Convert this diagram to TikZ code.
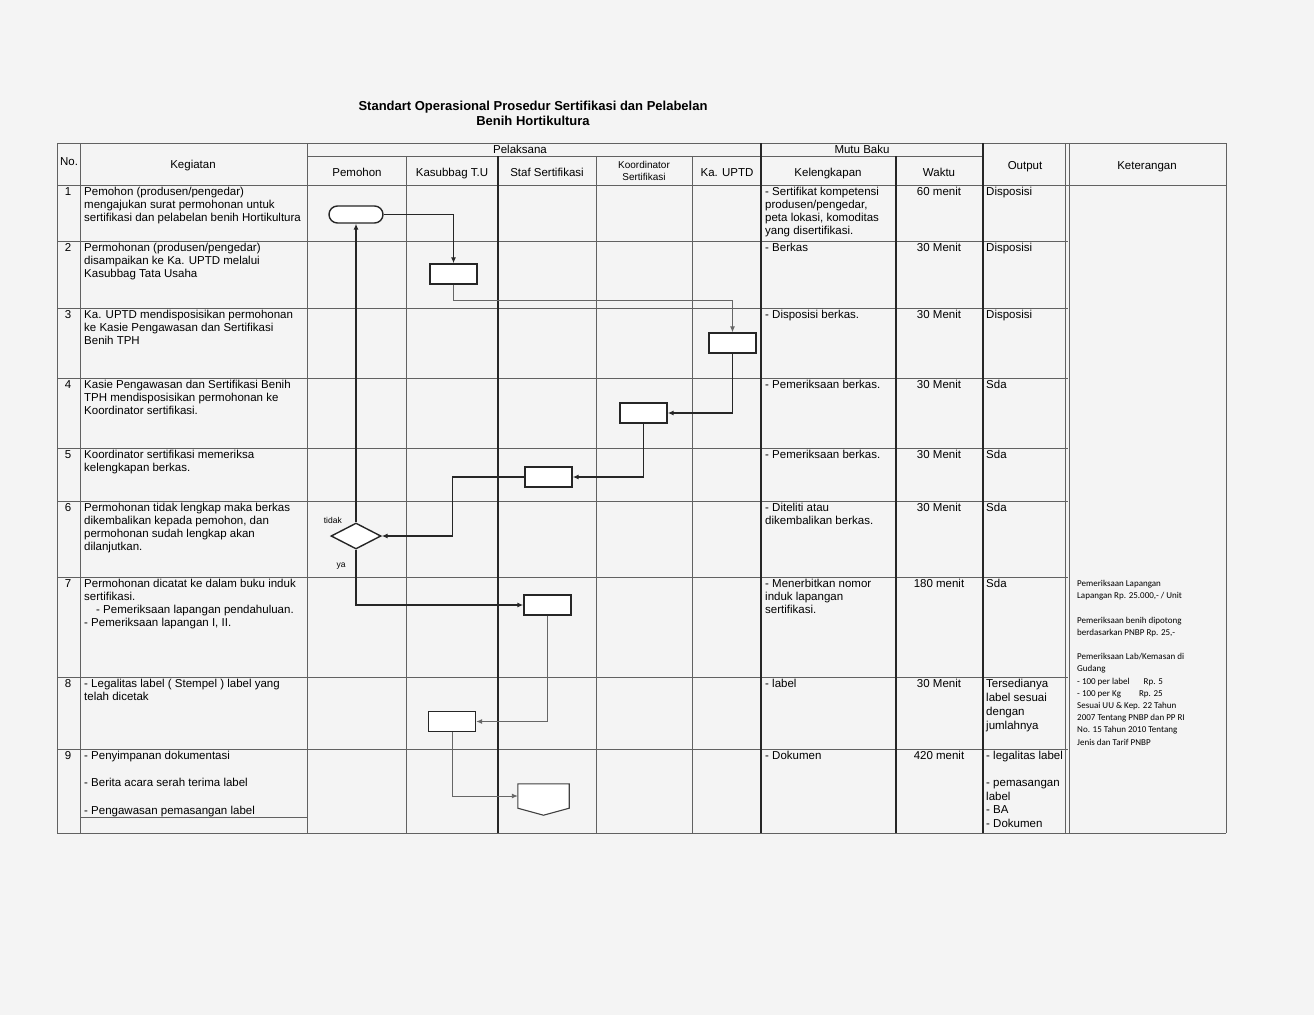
\documentclass[tikz,border=0pt]{standalone}
\usepackage{fontspec}
\setmainfont{Liberation Sans}
\newfontfamily\ketfont{Carlito}
\usetikzlibrary{arrows.meta,shapes.geometric,calc}
\definecolor{bg}{HTML}{F4F4F4}
\begin{document}
\begin{tikzpicture}[x=1pt,y=-1pt,
  gridl/.style={draw=black!62, line width=1pt},
  gridd/.style={draw=black!85, line width=1.2pt},
  txt/.style={anchor=north west, inner sep=0pt, align=left, font=\fontsize{11.5}{13}\selectfont},
  num/.style={anchor=north, inner sep=0pt, font=\fontsize{11.5}{13}\selectfont},
  wkt/.style={anchor=north, inner sep=0pt, font=\fontsize{11.5}{13}\selectfont},
  hdr/.style={inner sep=0pt, align=center, font=\fontsize{11.5}{13}\selectfont},
  subhdr/.style={inner sep=0pt, anchor=base, font=\fontsize{11.5}{13}\selectfont},
  proc/.style={draw=black!85, line width=1.4pt, fill=white, minimum width=47pt, minimum height=20pt, inner sep=0pt},
  term/.style={proc, rounded corners=8.5pt, minimum width=54pt, minimum height=17pt},
  dec/.style={diamond, draw=black!85, line width=1.4pt, fill=white, minimum width=50pt, minimum height=26pt, inner sep=0pt},
  conn/.style={draw=black!85, line width=1.2pt, -{Latex[length=6pt,width=5pt]}},
  thinconn/.style={draw=black!60, line width=0.9pt, -{Latex[length=6pt,width=5pt]}},
  lbl/.style={inner sep=0pt, font=\fontsize{8.5}{10}\selectfont}
]
\useasboundingbox (0,0) rectangle (1314,1015);
\fill[bg] (0,0) rectangle (1314,1015);

% title
\node[hdr, font=\fontsize{13}{15}\selectfont\bfseries] (title) at (533,113) {Standart Operasional Prosedur Sertifikasi dan Pelabelan\\Benih Hortikultura};

% ---------- grid ----------
\draw[gridl] (57,143) -- (1226,143);
\draw[gridl] (57,185) -- (1226,185);
\draw[gridl] (57,833) -- (1226,833);
\draw[gridl] (307,156) -- (983,156);
\foreach \yy in {241,308,378,448,501,577,677,749} \draw[gridl] (57,\yy) -- (1068,\yy);
\draw[gridl] (80,817) -- (307,817);
\foreach \xx in {57,80,307,1226} \draw[gridl] (\xx,143) -- (\xx,833);
\foreach \xx in {406,596,692} \draw[gridl] (\xx,156) -- (\xx,833);
\draw[gridd] (498,156) -- (498,833);
\draw[gridd] (761,143) -- (761,833);
\draw[gridd] (896,156) -- (896,833);
\draw[gridd] (983,143) -- (983,833);
\draw[gridl] (1065,143) -- (1065,833);
\draw[gridl] (1069,143) -- (1069,833);

% ---------- header ----------
\node[subhdr] (hno) at (69,165) {No.};
\node[subhdr] (hkeg) at (193,168) {Kegiatan};
\node[subhdr] (hpel) at (520,153) {Pelaksana};
\node[subhdr] (hmutu) at (862,153) {Mutu Baku};
\node[subhdr] (hpem) at (357,176) {Pemohon};
\node[subhdr] (hkas) at (452,176) {Kasubbag T.U};
\node[subhdr] (hstaf) at (547,176) {Staf Sertifikasi};
\node[hdr, font=\fontsize{10}{12}\selectfont] (hkoor) at (644,171) {Koordinator\\Sertifikasi};
\node[subhdr] (hupt) at (727,176) {Ka. UPTD};
\node[subhdr] (hkel) at (828,176) {Kelengkapan};
\node[subhdr] (hwkt) at (939,176) {Waktu};
\node[subhdr] (hout) at (1025,169) {Output};
\node[subhdr] (hket) at (1147,169) {Keterangan};

% ---------- rows ----------
\node[num] (n1) at (68,187) {1};
\node[txt] (k1) at (84,187) {Pemohon (produsen/pengedar)\\mengajukan surat permohonan untuk\\sertifikasi dan pelabelan benih Hortikultura};
\node[txt] (l1) at (765,187) {- Sertifikat kompetensi\\produsen/pengedar,\\peta lokasi, komoditas\\yang disertifikasi.};
\node[wkt] (w1) at (939,187) {60 menit};
\node[txt] (o1) at (986,187) {Disposisi};

\node[num] (n2) at (68,243) {2};
\node[txt] (k2) at (84,243) {Permohonan (produsen/pengedar)\\disampaikan ke Ka. UPTD melalui\\Kasubbag Tata Usaha};
\node[txt] (l2) at (765,243) {- Berkas};
\node[wkt] (w2) at (939,243) {30 Menit};
\node[txt] (o2) at (986,243) {Disposisi};

\node[num] (n3) at (68,310) {3};
\node[txt] (k3) at (84,310) {Ka. UPTD mendisposisikan permohonan\\ke Kasie Pengawasan dan Sertifikasi\\Benih TPH};
\node[txt] (l3) at (765,310) {- Disposisi berkas.};
\node[wkt] (w3) at (939,310) {30 Menit};
\node[txt] (o3) at (986,310) {Disposisi};

\node[num] (n4) at (68,380) {4};
\node[txt] (k4) at (84,380) {Kasie Pengawasan dan Sertifikasi Benih\\TPH mendisposisikan permohonan ke\\Koordinator sertifikasi.};
\node[txt] (l4) at (765,380) {- Pemeriksaan berkas.};
\node[wkt] (w4) at (939,380) {30 Menit};
\node[txt] (o4) at (986,380) {Sda};

\node[num] (n5) at (68,450) {5};
\node[txt] (k5) at (84,450) {Koordinator sertifikasi memeriksa\\kelengkapan berkas.};
\node[txt] (l5) at (765,450) {- Pemeriksaan berkas.};
\node[wkt] (w5) at (939,450) {30 Menit};
\node[txt] (o5) at (986,450) {Sda};

\node[num] (n6) at (68,503) {6};
\node[txt] (k6) at (84,503) {Permohonan tidak lengkap maka berkas\\dikembalikan kepada pemohon, dan\\permohonan sudah lengkap akan\\dilanjutkan.};
\node[txt] (l6) at (765,503) {- Diteliti atau\\dikembalikan berkas.};
\node[wkt] (w6) at (939,503) {30 Menit};
\node[txt] (o6) at (986,503) {Sda};

\node[num] (n7) at (68,579) {7};
\node[txt] (k7) at (84,579) {Permohonan dicatat ke dalam buku induk\\sertifikasi.\\\hspace*{12pt}- Pemeriksaan lapangan pendahuluan.\\- Pemeriksaan lapangan I, II.};
\node[txt] (l7) at (765,579) {- Menerbitkan nomor\\induk lapangan\\sertifikasi.};
\node[wkt] (w7) at (939,579) {180 menit};
\node[txt] (o7) at (986,579) {Sda};

\node[num] (n8) at (68,679) {8};
\node[txt] (k8) at (84,679) {- Legalitas label ( Stempel ) label yang\\telah dicetak};
\node[txt] (l8) at (765,679) {- label};
\node[wkt] (w8) at (939,679) {30 Menit};
\node[txt, font=\fontsize{11.5}{14}\selectfont] (o8) at (986,679) {Tersedianya\\label sesuai\\dengan\\jumlahnya};

\node[num] (n9) at (68,751) {9};
\node[txt] (k9a) at (84,751) {- Penyimpanan dokumentasi};
\node[txt] (k9b) at (84,778) {- Berita acara serah terima label};
\node[txt] (k9c) at (84,806) {- Pengawasan pemasangan label};
\node[txt] (l9) at (765,751) {- Dokumen};
\node[wkt] (w9) at (939,751) {420 menit};
\node[txt, font=\fontsize{11.5}{13.5}\selectfont] (o9) at (986,751) {- legalitas label\\[13.5pt]- pemasangan\\label\\- BA\\- Dokumen};

\node[anchor=north west, inner sep=0pt, align=left, font=\ketfont\fontsize{9}{12.2}\selectfont] (ket) at (1077,580) {Pemeriksaan Lapangan\\Lapangan Rp. 25.000,- / Unit\\[12.2pt]Pemeriksaan benih dipotong\\berdasarkan PNBP Rp. 25,-\\[12.2pt]Pemeriksaan Lab/Kemasan di\\Gudang\\- 100 per label\hspace{14pt}Rp. 5\\- 100 per Kg\hspace{18pt}Rp. 25\\Sesuai UU \& Kep. 22 Tahun\\2007 Tentang PNBP dan PP RI\\No. 15 Tahun 2010 Tentang\\Jenis dan Tarif PNBP};

% ---------- flowchart ----------
\node[term] (t1) at (356,214.5) {};
\node[proc] (b2) at (453.5,274) {};
\node[proc] (b3) at (732.5,343) {};
\node[proc] (b4) at (643.5,413) {};
\node[proc] (b5) at (548.5,477) {};
\node[dec] (d6) at (356,536) {};
\node[proc] (b7) at (547.5,605) {};
\node[proc] (b8) at (452,721.5) {};
\node[minimum width=51pt, minimum height=24pt, inner sep=0pt] (doc) at (543.5,796) {};
\draw[draw=black!75, line width=1.1pt, fill=white] (doc.north west) -- (doc.north east) -- (doc.south east) -- ($(doc.south)+(0,7)$) -- (doc.south west) -- cycle;

\node[lbl, anchor=east] (ltidak) at (342,520) {tidak};
\node[lbl] (lya) at (341,566) {ya};

\draw[conn] (t1.east) -| (b2.north);
\draw[thinconn] (b2.south) -- ++(0,16) -| (b3.north);
\draw[conn] (b3.south) |- (b4.east);
\draw[conn] (b4.south) |- (b5.east);
\draw[conn] (b5.west) -- ++(-72,0) |- (d6.east);
\draw[conn] (d6.north) -- (t1.south);
\draw[conn] (d6.south) |- (b7.west);
\draw[thinconn] (b7.south) |- (b8.east);
\draw[thinconn] (b8.south) |- (doc.west);
\end{tikzpicture}
\end{document}
